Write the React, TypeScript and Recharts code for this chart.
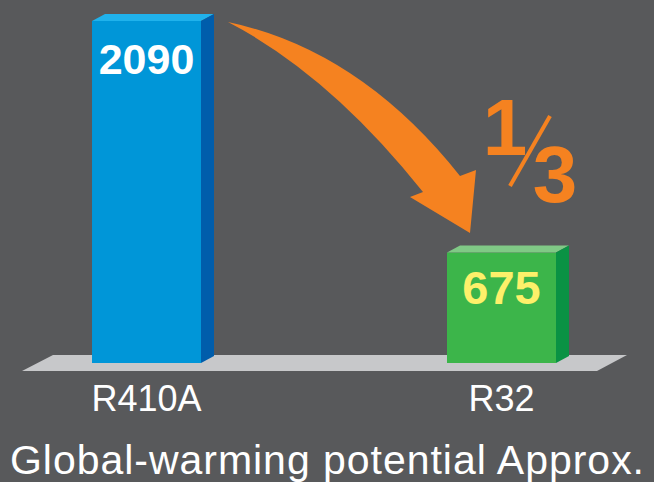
import React from "react";
import {
  BarChart,
  Bar,
  XAxis,
  YAxis,
  ReferenceLine,
  Customized,
} from "recharts";

// refrigerants and their global-warming potential
const refrigerants = ["R410A", "R32"];
const gwpValues = [2090, 675];

const frontColors = ["#0096d8", "#3cb54a"];
const topColors = ["#20b2ec", "#80c986"];
const sideColors = ["#005dab", "#0a9244"];
const valueColors = ["#ffffff", "#fdf06a"];

const data = refrigerants.map((name, i) => ({ name, pos: i, gwp: gwpValues[i] }));

const FONT = '"Liberation Sans", Arial, Helvetica, sans-serif';
const BG = "#58595b";
const ORANGE = "#f58220";
const DEPTH_X = 13;
const DEPTH_Y = 7;

const Box3D = (props: any) => {
  const { x, y, width, height, index, value } = props;
  const i = index ?? 0;
  const top = `${x},${y} ${x + DEPTH_X},${y - DEPTH_Y} ${x + width + DEPTH_X},${y - DEPTH_Y} ${x + width},${y}`;
  const side = `${x + width},${y} ${x + width + DEPTH_X},${y - DEPTH_Y} ${x + width + DEPTH_X},${y + height - DEPTH_Y} ${x + width},${y + height}`;
  return (
    <g>
      <rect x={x} y={y} width={width} height={height} fill={frontColors[i]} />
      <polygon points={top} fill={topColors[i]} />
      <polygon points={side} fill={sideColors[i]} />
      <text
        x={x + width / 2}
        y={y + (i === 0 ? 53 : 51)}
        textAnchor="middle"
        fontFamily={FONT}
        fontWeight="bold"
        fontSize={i === 0 ? 43 : 47}
        fill={valueColors[i]}
      >
        {value}
      </text>
    </g>
  );
};

// grey platform under the bars, placed on the zero line
const Floor = (props: any) => {
  const { y1 } = props;
  const y = y1 ?? 363;
  const pts = `53,${y - 8} 627,${y - 8} 597,${y + 8} 22,${y + 8}`;
  return <polygon points={pts} fill="#c7c8ca" />;
};

const RefTick = (props: any) => {
  const { x, y, payload } = props;
  return (
    <text
      x={x}
      y={y + 46}
      textAnchor="middle"
      fontFamily={FONT}
      fontSize={36}
      fill="#ffffff"
    >
      {refrigerants[payload.value]}
    </text>
  );
};

const Decorations = () => (
  <g>
    <path
      d="M228,22 Q360,50 460,176 L476,170 L470,233 L410,197 L423,192 Q330,75 228,22 Z"
      fill={ORANGE}
    />
    <text x={505} y={155} textAnchor="middle" fontFamily={FONT} fontWeight="bold" fontSize={80} fill={ORANGE}>
      1
    </text>
    <line x1={510} y1={186} x2={550} y2={116} stroke={ORANGE} strokeWidth={4} />
    <text x={555} y={202} textAnchor="middle" fontFamily={FONT} fontWeight="bold" fontSize={80} fill={ORANGE}>
      3
    </text>
    <text
      x={327}
      y={474}
      textAnchor="middle"
      fontFamily={FONT}
      fontSize={41}
      fill="#ffffff"
      textLength={634}
      lengthAdjust="spacing"
    >
      Global-warming potential Approx.
    </text>
  </g>
);

export default function App() {
  return (
    <div style={{ width: 654, height: 482, background: BG }}>
      <style>{"body{margin:0}"}</style>
      <BarChart
        width={654}
        height={482}
        data={data}
        margin={{ top: 21, right: 0, bottom: 59, left: 0 }}
      >
        <ReferenceLine y={0} shape={Floor} zIndex={-10} />
        <XAxis
          dataKey="pos"
          type="number"
          domain={[-0.4127, 1.4296]}
          ticks={[0, 1]}
          height={60}
          axisLine={false}
          tickLine={false}
          tickSize={0}
          tick={RefTick}
          allowDataOverflow
        />
        <YAxis hide domain={[0, "dataMax"]} />
        <Bar dataKey="gwp" barSize={109} shape={Box3D} isAnimationActive={false} />
        <Customized component={Decorations} />
      </BarChart>
    </div>
  );
}
